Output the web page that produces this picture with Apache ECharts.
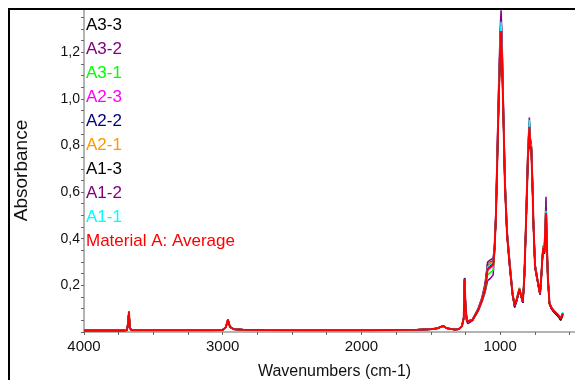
<!DOCTYPE html>
<html>
<head>
<meta charset="utf-8">
<script src="https://cdn.jsdelivr.net/npm/echarts@6/dist/echarts.min.js"></script>
<style>
  html, body { margin: 0; padding: 0; background: #fff; }
  #main { width: 575px; height: 380px; }
</style>
</head>
<body>
<div id="main"></div>
<script>
// high wavenumber range, all spectra overlap here
const hiWn = [4000, 3720, 3690, 3682, 3676, 3670, 3660, 3500, 3100, 3000, 2978, 2962, 2948, 2920, 2850, 2700, 2400, 2000, 1800, 1600, 1500, 1450, 1411, 1385, 1330, 1300];
const hiAbs = [0.006, 0.006, 0.007, 0.04, 0.087, 0.02, 0.008, 0.007, 0.008, 0.009, 0.02, 0.053, 0.022, 0.012, 0.01, 0.009, 0.008, 0.008, 0.009, 0.01, 0.012, 0.016, 0.026, 0.016, 0.011, 0.012];

// fingerprint range
const fpWn = [1290, 1275, 1262, 1256, 1250, 1240, 1233, 1200, 1159, 1130,
  1108, 1090, 1070, 1050, 1040, 1030, 1020, 1010, 1000, 993,
  986, 976, 965, 950, 930, 910, 895, 880, 861, 850,
  836, 825, 813, 800, 789, 782, 775, 766, 760, 748,
  736, 726, 712, 704, 695, 689, 681, 674, 669, 662,
  656, 644, 630, 616, 580, 563, 548];

const a33 = [0.013,0.025,0.06,0.226,0.12,0.045,0.038,0.052,0.096,0.145, 0.2,0.29,0.3,0.305,0.365,0.5,0.75,1.0,1.21,1.3, 1.19,0.93,0.635,0.42,0.28,0.158,0.105,0.132,0.18,0.155, 0.125,0.238,0.465,0.73,0.87,0.79,0.78,0.61,0.465,0.275, 0.235,0.205,0.16,0.225,0.315,0.355,0.335,0.43,0.5,0.355, 0.232,0.12,0.1,0.088,0.066,0.05,0.072];
const a32 = [0.013,0.026,0.065,0.23,0.125,0.046,0.036,0.048,0.088,0.13, 0.17,0.22,0.23,0.245,0.34,0.52,0.8,1.07,1.29,1.38, 1.26,0.97,0.66,0.44,0.3,0.17,0.11,0.135,0.18,0.155, 0.125,0.24,0.49,0.78,0.92,0.83,0.81,0.64,0.48,0.29, 0.25,0.2,0.16,0.22,0.32,0.37,0.35,0.48,0.58,0.39, 0.24,0.12,0.1,0.09,0.07,0.052,0.075];
const a31 = [0.013,0.025,0.06,0.222,0.12,0.045,0.037,0.049,0.09,0.135, 0.18,0.245,0.255,0.265,0.35,0.5,0.76,1.01,1.21,1.3, 1.2,0.94,0.65,0.43,0.29,0.17,0.12,0.145,0.19,0.165, 0.135,0.245,0.48,0.76,0.9,0.82,0.8,0.64,0.49,0.29, 0.245,0.215,0.17,0.235,0.33,0.37,0.35,0.46,0.55,0.38, 0.24,0.125,0.106,0.094,0.073,0.058,0.081];
const a23 = [0.013,0.025,0.06,0.224,0.12,0.045,0.038,0.05,0.092,0.14, 0.19,0.265,0.275,0.285,0.355,0.5,0.76,1.0,1.21,1.31, 1.19,0.93,0.635,0.425,0.282,0.162,0.115,0.14,0.185,0.16, 0.13,0.24,0.47,0.745,0.89,0.81,0.795,0.625,0.472,0.282, 0.242,0.21,0.165,0.23,0.32,0.36,0.34,0.445,0.52,0.362, 0.236,0.123,0.105,0.093,0.072,0.057,0.08];
const a22 = [0.013,0.026,0.062,0.232,0.122,0.046,0.038,0.051,0.094,0.142, 0.195,0.285,0.295,0.3,0.36,0.49,0.74,0.99,1.19,1.28, 1.17,0.91,0.625,0.415,0.278,0.158,0.112,0.138,0.183,0.158, 0.128,0.236,0.462,0.73,0.87,0.79,0.78,0.61,0.465,0.278, 0.238,0.208,0.163,0.228,0.318,0.358,0.338,0.435,0.5,0.355, 0.234,0.122,0.104,0.092,0.071,0.056,0.079];
const a21 = [0.013,0.025,0.06,0.224,0.12,0.045,0.038,0.051,0.095,0.143, 0.198,0.29,0.298,0.3,0.36,0.5,0.75,1.0,1.2,1.29, 1.18,0.92,0.63,0.42,0.28,0.16,0.114,0.14,0.185,0.16, 0.13,0.24,0.468,0.74,0.88,0.8,0.79,0.62,0.47,0.28, 0.24,0.21,0.165,0.23,0.32,0.36,0.34,0.44,0.51,0.36, 0.236,0.123,0.105,0.093,0.072,0.057,0.08];
const a13 = [0.013,0.025,0.06,0.222,0.118,0.045,0.038,0.05,0.093,0.14, 0.19,0.275,0.285,0.292,0.355,0.49,0.74,0.99,1.18,1.27, 1.16,0.91,0.625,0.415,0.278,0.16,0.112,0.138,0.184,0.158, 0.128,0.236,0.462,0.73,0.87,0.79,0.78,0.61,0.465,0.278, 0.238,0.208,0.163,0.228,0.318,0.358,0.338,0.43,0.49,0.352, 0.233,0.121,0.102,0.09,0.068,0.052,0.074];
const a12 = [0.013,0.025,0.062,0.228,0.122,0.046,0.04,0.054,0.1,0.15, 0.21,0.3,0.31,0.315,0.37,0.52,0.78,1.04,1.25,1.35, 1.23,0.95,0.65,0.43,0.29,0.165,0.11,0.138,0.183,0.158, 0.128,0.245,0.48,0.76,0.9,0.82,0.8,0.63,0.48,0.29, 0.245,0.205,0.162,0.225,0.32,0.365,0.345,0.46,0.55,0.375, 0.238,0.122,0.103,0.092,0.07,0.054,0.077];
const a11 = [0.014,0.026,0.06,0.224,0.12,0.046,0.039,0.052,0.095,0.145, 0.195,0.28,0.29,0.3,0.365,0.51,0.77,1.02,1.23,1.33, 1.21,0.94,0.645,0.43,0.285,0.162,0.115,0.14,0.186,0.16, 0.13,0.242,0.475,0.75,0.91,0.81,0.8,0.63,0.475,0.285, 0.24,0.21,0.166,0.23,0.322,0.362,0.342,0.445,0.52,0.365, 0.238,0.124,0.106,0.094,0.074,0.06,0.086];
const avg = [0.013,0.025,0.06,0.225,0.12,0.045,0.038,0.05,0.093,0.14, 0.19,0.27,0.28,0.29,0.36,0.5,0.75,1.0,1.2,1.29, 1.18,0.92,0.63,0.42,0.28,0.16,0.115,0.14,0.185,0.16, 0.13,0.24,0.47,0.74,0.88,0.8,0.79,0.62,0.47,0.28, 0.24,0.21,0.165,0.23,0.32,0.36,0.34,0.44,0.51,0.36, 0.236,0.123,0.105,0.093,0.072,0.057,0.08];

const names = ['A3-3', 'A3-2', 'A3-1', 'A2-3', 'A2-2', 'A2-1', 'A1-3', 'A1-2', 'A1-1', 'Material A: Average'];
const colors = ['#000000', '#800080', '#00ff00', '#ff00ff', '#000080', '#ff9900', '#000000', '#800080', '#00ffff', '#ff0000'];
const spectra = [a33, a32, a31, a23, a22, a21, a13, a12, a11, avg];

const xLabels = [4000, 3000, 2000, 1000];
const xTicks = [4000, 3750, 3500, 3250, 3000, 2750, 2500, 2250, 2000, 1750, 1500, 1250, 1000, 750, 500];

const font = 'Liberation Sans, Arial, sans-serif';

const toData = (vals) =>
  hiWn.map((w, i) => [w, hiAbs[i]]).concat(fpWn.map((w, i) => [w, vals[i]]));

const option = {
  animation: false,
  backgroundColor: '#fff',
  textStyle: { fontFamily: font },
  grid: { left: 84, right: 0, top: 9, bottom: 48, outerBoundsMode: 'none' },
  legend: {
    orient: 'vertical',
    left: 76,
    top: 12,
    icon: 'none',
    itemWidth: 0,
    itemHeight: 16,
    itemGap: 7,
    selectedMode: false,
    textStyle: { fontSize: 17, fontFamily: font, lineHeight: 16 },
    data: names.map((n, i) => ({ name: n, textStyle: { color: colors[i] } })),
  },
  xAxis: {
    type: 'value',
    inverse: true,
    min: 460,
    max: 4000,
    name: 'Wavenumbers (cm-1)',
    nameLocation: 'middle',
    nameGap: 32,
    nameTextStyle: { fontSize: 16, color: '#111', fontFamily: font, padding: [0, 0, 0, 10] },
    axisLine: { lineStyle: { color: '#b4b4b4', width: 2 } },
    axisTick: { customValues: xTicks, length: 3, lineStyle: { color: '#666' } },
    axisLabel: {
      customValues: xLabels,
      margin: 7,
      fontSize: 15,
      color: '#111',
      formatter: (v) => String(v),
    },
    splitLine: { show: false },
  },
  yAxis: {
    type: 'value',
    min: 0,
    max: 1.385,
    interval: 0.2,
    name: 'Absorbance',
    nameLocation: 'middle',
    nameGap: 53,
    nameRotate: 90,
    nameTextStyle: { fontSize: 19, color: '#111', fontFamily: font },
    axisLine: { show: true, lineStyle: { color: '#b4b4b4', width: 2 } },
    axisTick: { show: true, length: 3, lineStyle: { color: '#666' } },
    minorTick: { show: true, splitNumber: 4, length: 3, lineStyle: { color: '#666' } },
    axisLabel: {
      margin: 4,
      fontSize: 14,
      color: '#111',
      showMinLabel: false,
      showMaxLabel: false,
      formatter: (v) => v.toFixed(1).replace('.', ','),
    },
    splitLine: { show: false },
  },
  graphic: [
    {
      type: 'rect',
      shape: { x: 9, y: 9, width: 700, height: 500 },
      style: { fill: 'none', stroke: '#000', lineWidth: 2 },
      z: 100,
    },
  ],
  series: spectra.map((vals, i) => ({
    name: names[i],
    type: 'line',
    data: toData(vals),
    showSymbol: false,
    symbol: 'none',
    color: colors[i],
    lineStyle: { width: i === 9 ? 2 : 1.5, color: colors[i] },
  })),
};

const myChart = echarts.init(document.getElementById('main'));
myChart.setOption(option);
</script>
</body>
</html>
